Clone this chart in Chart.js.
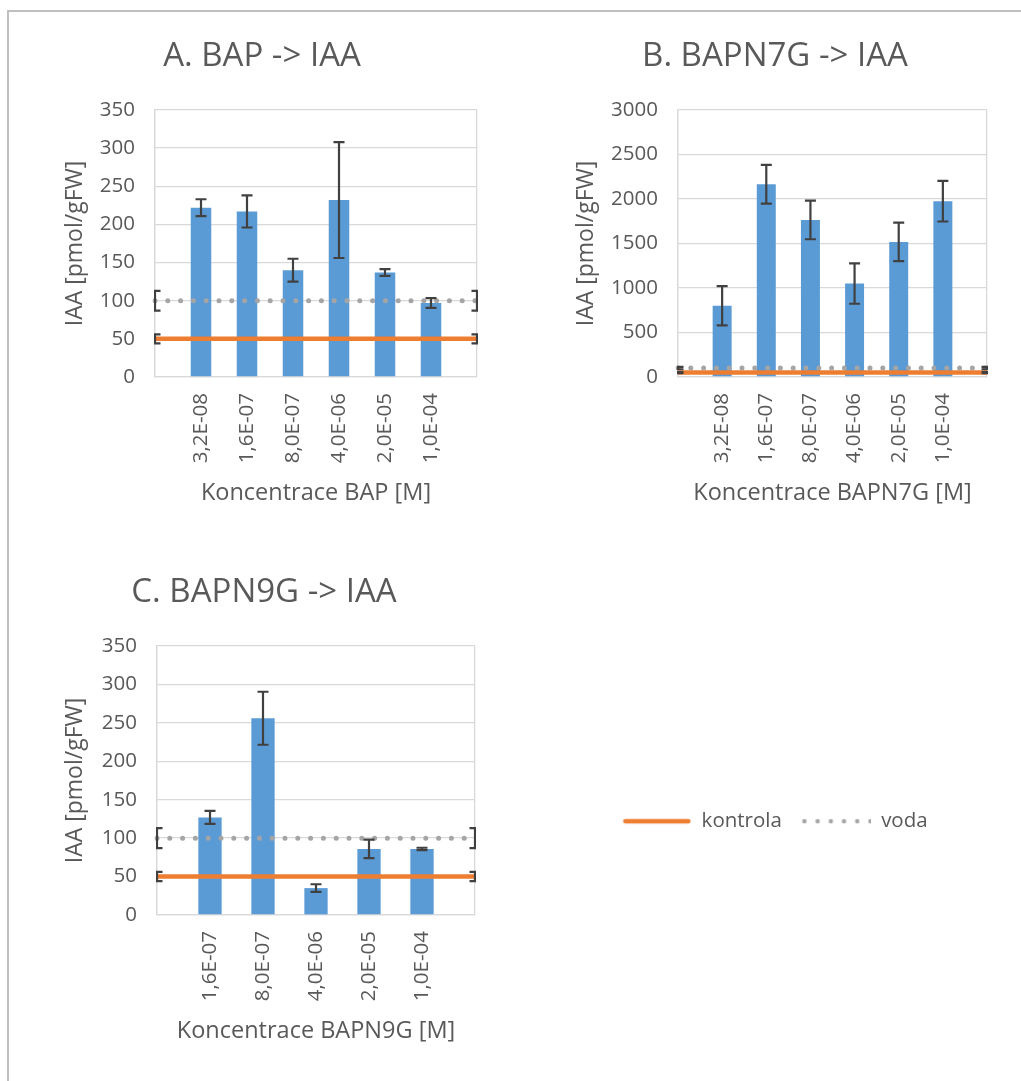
<!DOCTYPE html>
<html>
<head>
<meta charset="utf-8">
<script src="https://cdn.jsdelivr.net/npm/chart.js@4.4.1/dist/chart.umd.min.js"></script>
<style>
  body { margin: 0; background: #fff; width: 1021px; height: 1081px; overflow: hidden; position: relative; }
  #frame { position: absolute; left: 7px; top: 10px; right: 0; bottom: 0; border-left: 2px solid #bfbfbf; border-top: 2px solid #bfbfbf; }
  canvas { position: absolute; }
</style>
</head>
<body>
<div id="frame"></div>
<canvas id="chartA" width="445" height="487" style="left:47px; top:20px"></canvas>
<canvas id="chartB" width="439" height="487" style="left:563px; top:20px"></canvas>
<canvas id="chartC" width="437" height="489" style="left:53px; top:556px"></canvas>
<canvas id="legend" width="400" height="200" style="left:575px; top:791px"></canvas>
<script>
// concentrations (empty slots at both ends so the control lines run edge to edge)
const labelsA = ['', '3,2E-08', '1,6E-07', '8,0E-07', '4,0E-06', '2,0E-05', '1,0E-04', '']
const labelsB = ['', '3,2E-08', '1,6E-07', '8,0E-07', '4,0E-06', '2,0E-05', '1,0E-04', '']
const labelsC = ['', '1,6E-07', '8,0E-07', '4,0E-06', '2,0E-05', '1,0E-04', '']

// IAA [pmol/gFW] and error bars
const iaaA = [null, 222, 217, 140, 232, 137, 97, null]
const errA = [null, 11, 21, 15, 76, 4.5, 6.5, null]
const iaaB = [null, 800, 2165, 1765, 1050, 1518, 1975, null]
const errB = [null, 220, 218, 217, 227, 217, 228, null]
const iaaC = [null, 127, 256, 35, 86, 86, null]
const errC = [null, 8.5, 34.5, 5, 12, 1.5, null]

// reference lines
const kontrolaA = [50, 50, 50, 50, 50, 50, 50, 50]
const vodaA = [100, 100, 100, 100, 100, 100, 100, 100]
const kontrolaB = [50, 50, 50, 50, 50, 50, 50, 50]
const vodaB = [100, 100, 100, 100, 100, 100, 100, 100]
const kontrolaC = [50, 50, 50, 50, 50, 50, 50]
const vodaC = [100, 100, 100, 100, 100, 100, 100]
const kontrolaErr8 = [6, null, null, null, null, null, null, 6]
const vodaErr8 = [13, null, null, null, null, null, null, 13]
const kontrolaErr7 = [6, null, null, null, null, null, 6]
const vodaErr7 = [13, null, null, null, null, null, 13]

const TEXT = '#595959'
const GRID = '#d9d9d9'
Chart.defaults.font.family = "'Open Sans', sans-serif"
Chart.defaults.color = TEXT

const errorBars = {
  id: 'errorBars',
  afterDatasetsDraw(chart) {
    const { ctx, chartArea: a } = chart
    const y = chart.scales.y
    ctx.save()
    ctx.beginPath()
    ctx.rect(a.left - 1, a.top, a.right - a.left + 2, a.bottom - a.top)
    ctx.clip()
    ctx.strokeStyle = '#404040'
    ctx.lineWidth = 2.2
    chart.data.datasets.forEach((ds, di) => {
      if (!ds.errors) return
      const meta = chart.getDatasetMeta(di)
      ds.data.forEach((v, i) => {
        const e = ds.errors[i]
        if (v == null || e == null) return
        const x = meta.data[i].x
        const top = y.getPixelForValue(v + e)
        const bot = y.getPixelForValue(v - e)
        ctx.beginPath()
        ctx.moveTo(x, top); ctx.lineTo(x, bot)
        ctx.moveTo(x - 5.5, top); ctx.lineTo(x + 5.5, top)
        ctx.moveTo(x - 5.5, bot); ctx.lineTo(x + 5.5, bot)
        ctx.stroke()
      })
    })
    ctx.restore()
  }
}

const makeChart = (id, cfg) => {
  const n = cfg.labels.length
  new Chart(document.getElementById(id), {
    type: 'bar',
    data: {
      labels: cfg.labels,
      datasets: [
        { type: 'line', label: 'kontrola', data: cfg.kontrola, errors: cfg.kontrolaErr, order: 1,
          borderColor: '#ED7D31', borderWidth: 4.5, pointRadius: 0, borderCapStyle: 'butt' },
        { type: 'line', label: 'voda', data: cfg.voda, errors: cfg.vodaErr, order: 2,
          borderColor: '#A5A5A5', borderWidth: 5, borderDash: [0, 12.8], borderCapStyle: 'round', pointRadius: 0 },
        { label: 'IAA', data: cfg.values, errors: cfg.errors, order: 3,
          backgroundColor: '#5B9BD5', barPercentage: 1, categoryPercentage: cfg.barFrac }
      ]
    },
    options: {
      responsive: false,
      animation: false,
      layout: { padding: { left: 0, right: 15, top: 0, bottom: 0 } },
      plugins: {
        legend: { display: false },
        tooltip: { enabled: false },
        title: { display: true, text: cfg.title, color: TEXT,
          font: { size: 33, weight: 'normal' }, padding: { top: 17, bottom: 33.4 } }
      },
      scales: {
        x: {
          offset: false,
          grid: { offset: false, drawTicks: false, lineWidth: 1.3,
            color: c => (c.index === 0 || c.index === n - 1) ? GRID : 'rgba(0,0,0,0)' },
          border: { color: GRID, width: 1.3 },
          ticks: { autoSkip: false, minRotation: 90, maxRotation: 90, padding: 16, font: { size: 20.5 }, color: TEXT },
          title: { display: true, text: cfg.xTitle, color: TEXT, font: { size: 23.5 }, padding: { top: 0, bottom: 0 } },
          afterFit: s => { s.height = 130; s.paddingLeft = 0; s.paddingRight = 0 }
        },
        y: {
          min: 0, max: cfg.yMax,
          grid: { color: GRID, lineWidth: 1.3, drawTicks: false },
          border: { color: GRID, width: 1.3 },
          ticks: { stepSize: cfg.yStep, padding: 20, font: { size: 20.5 }, color: TEXT, callback: v => v },
          title: { display: true, text: 'IAA [pmol/gFW]', color: TEXT, font: { size: 23 }, padding: { top: cfg.yTitlePad, bottom: 0 } },
          afterFit: s => { s.width = cfg.yWidth }
        }
      }
    },
    plugins: [errorBars]
  })
}

makeChart('chartA', { labels: labelsA, values: iaaA, errors: errA, kontrola: kontrolaA, voda: vodaA,
  kontrolaErr: kontrolaErr8, vodaErr: vodaErr8, yMax: 350, yStep: 50, barFrac: 0.446,
  title: 'A. BAP -> IAA', xTitle: 'Koncentrace BAP [M]', yWidth: 108, yTitlePad: 15 })

makeChart('chartB', { labels: labelsB, values: iaaB, errors: errB, kontrola: kontrolaB, voda: vodaB,
  kontrolaErr: kontrolaErr8, vodaErr: vodaErr8, yMax: 3000, yStep: 500, barFrac: 0.43,
  title: 'B. BAPN7G -> IAA', xTitle: 'Koncentrace BAPN7G [M]', yWidth: 115, yTitlePad: 10 })

makeChart('chartC', { labels: labelsC, values: iaaC, errors: errC, kontrola: kontrolaC, voda: vodaC,
  kontrolaErr: kontrolaErr7, vodaErr: vodaErr7, yMax: 350, yStep: 50, barFrac: 0.44,
  title: 'C. BAPN9G -> IAA', xTitle: 'Koncentrace BAPN9G [M]', yWidth: 104, yTitlePad: 9 })

// legend symbols
const kontrolaIcon = document.createElement('canvas')
kontrolaIcon.width = 69; kontrolaIcon.height = 8
let g = kontrolaIcon.getContext('2d')
g.strokeStyle = '#ED7D31'; g.lineWidth = 4.5; g.lineCap = 'round'
g.beginPath(); g.moveTo(3, 4); g.lineTo(66, 4); g.stroke()

const vodaIcon = document.createElement('canvas')
vodaIcon.width = 70; vodaIcon.height = 8
g = vodaIcon.getContext('2d')
g.strokeStyle = '#A5A5A5'; g.lineWidth = 4.5; g.lineCap = 'round'; g.setLineDash([0, 13.2])
g.beginPath(); g.moveTo(3, 4); g.lineTo(69, 4); g.stroke()

new Chart(document.getElementById('legend'), {
  type: 'line',
  data: { datasets: [] },
  options: {
    responsive: false,
    animation: false,
    layout: { padding: 0 },
    scales: { x: { display: false }, y: { display: false } },
    plugins: {
      tooltip: { enabled: false },
      legend: {
        display: true,
        position: 'top',
        labels: {
          usePointStyle: true, pointStyleWidth: 69, boxHeight: 20, padding: 20, color: TEXT, font: { size: 20.5 },
          generateLabels: () => [
            { text: 'kontrola', pointStyle: kontrolaIcon, fillStyle: 'rgba(0,0,0,0)', strokeStyle: 'rgba(0,0,0,0)', lineWidth: 0, fontColor: TEXT },
            { text: 'voda', pointStyle: vodaIcon, fillStyle: 'rgba(0,0,0,0)', strokeStyle: 'rgba(0,0,0,0)', lineWidth: 0, fontColor: TEXT }
          ]
        }
      }
    }
  }
})
</script>
</body>
</html>
